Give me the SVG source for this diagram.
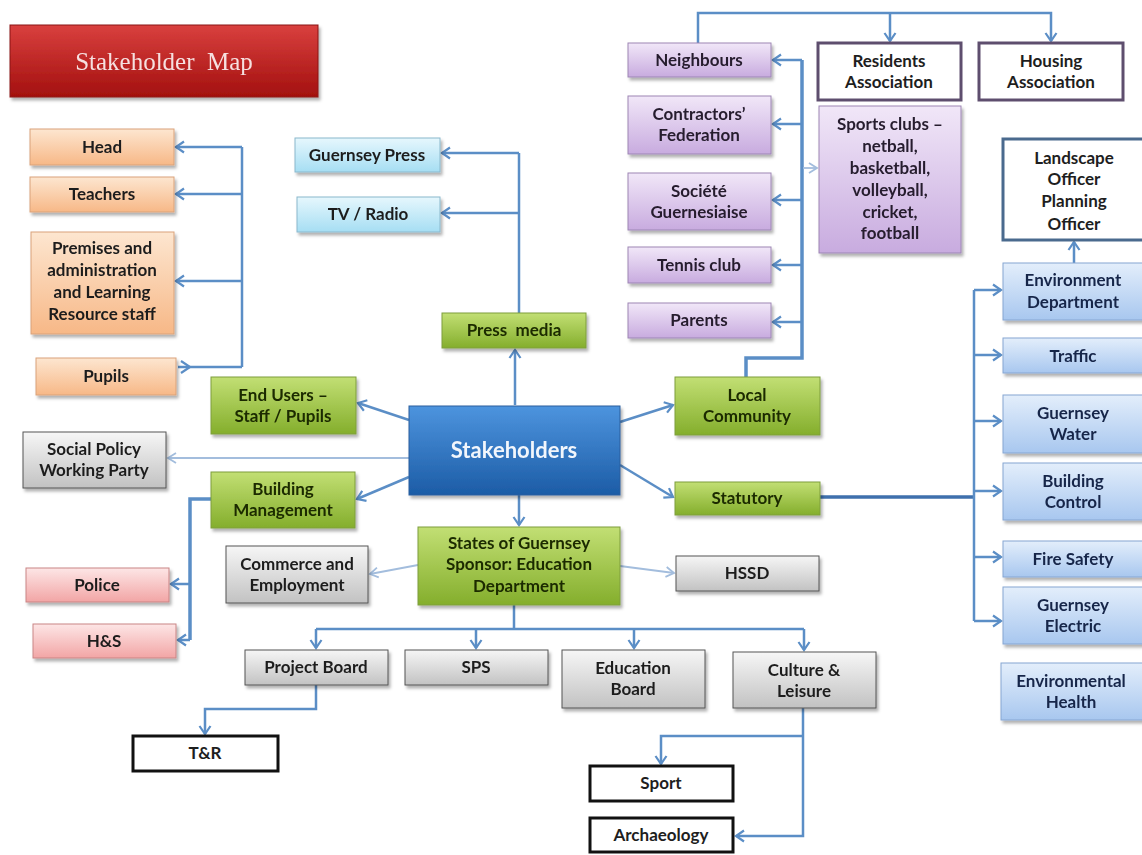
<svg xmlns="http://www.w3.org/2000/svg" width="1142" height="855" viewBox="0 0 1142 855">
<defs>
<style>
.t{font-family:Lato,"Open Sans","Liberation Sans",sans-serif;font-weight:bold;font-size:17px;text-anchor:middle;fill:#1e1e1e}
.tg{fill:#1b2a00}
.tb{fill:#18264a}
.tp{fill:#261d2e}
.c{fill:none;stroke:#5b8ec6;stroke-width:2.5}
.ct{fill:none;stroke:#5b8ec6;stroke-width:3.5}
.cl{fill:none;stroke:#a3bddd;stroke-width:1.8}
.box{filter:url(#sh)}
</style>
<filter id="sh" x="-10%" y="-10%" width="125%" height="140%">
<feDropShadow dx="2" dy="3" stdDeviation="1.8" flood-color="#000" flood-opacity="0.3"/>
</filter>
<linearGradient id="gRed" x1="0" y1="0" x2="0" y2="1"><stop offset="0" stop-color="#d9403e"/><stop offset="1" stop-color="#a3100f"/></linearGradient>
<linearGradient id="gOr" x1="0" y1="0" x2="0" y2="1"><stop offset="0" stop-color="#fde6d0"/><stop offset="1" stop-color="#f7b887"/></linearGradient>
<linearGradient id="gGr" x1="0" y1="0" x2="0" y2="1"><stop offset="0" stop-color="#c2df74"/><stop offset="1" stop-color="#84ae2c"/></linearGradient>
<linearGradient id="gSt" x1="0" y1="0" x2="0" y2="1"><stop offset="0" stop-color="#4d94de"/><stop offset="1" stop-color="#1c5ca6"/></linearGradient>
<linearGradient id="gLb" x1="0" y1="0" x2="0" y2="1"><stop offset="0" stop-color="#e6f7fd"/><stop offset="1" stop-color="#a6def3"/></linearGradient>
<linearGradient id="gPu" x1="0" y1="0" x2="0" y2="1"><stop offset="0" stop-color="#f1e7f8"/><stop offset="1" stop-color="#c8abdf"/></linearGradient>
<linearGradient id="gGy" x1="0" y1="0" x2="0" y2="1"><stop offset="0" stop-color="#f6f6f6"/><stop offset="1" stop-color="#c2c2c2"/></linearGradient>
<linearGradient id="gPk" x1="0" y1="0" x2="0" y2="1"><stop offset="0" stop-color="#fde6e6"/><stop offset="1" stop-color="#f2a5a5"/></linearGradient>
<linearGradient id="gBl" x1="0" y1="0" x2="0" y2="1"><stop offset="0" stop-color="#e3eefb"/><stop offset="1" stop-color="#a8c7ef"/></linearGradient>
<marker id="a" markerUnits="userSpaceOnUse" markerWidth="14" markerHeight="14" refX="10" refY="7" orient="auto">
<path d="M2,1.5 L10,7 L2,12.5" fill="none" stroke="#5b8ec6" stroke-width="2.2"/>
</marker>
<marker id="al" markerUnits="userSpaceOnUse" markerWidth="14" markerHeight="14" refX="10" refY="7" orient="auto">
<path d="M2,2 L10,7 L2,12" fill="none" stroke="#a3bddd" stroke-width="1.8"/>
</marker>
</defs>
<rect width="1142" height="855" fill="#ffffff"/>

<g id="title" class="box">
<rect x="10" y="25" width="308" height="72" fill="url(#gRed)" stroke="#8a1515" stroke-width="1"/>
<text x="164" y="70" style="font-family:'Liberation Serif',serif;font-size:25px;text-anchor:middle;fill:#f6e0e0">Stakeholder&#160; Map</text>
</g>

<g id="connectors">
<path class="c" d="M242,147 V367"/>
<path class="c" d="M242,147 H176" marker-end="url(#a)"/>
<path class="c" d="M242,194 H176" marker-end="url(#a)"/>
<path class="c" d="M242,281 H176" marker-end="url(#a)"/>
<path class="c" d="M242,367 H178"/>
<path d="M181,361 L190,367 L181,373" fill="none" stroke="#5b8ec6" stroke-width="2.2"/>
<path class="c" d="M519,313 V153"/>
<path class="c" d="M519,153 H442" marker-end="url(#a)"/>
<path class="c" d="M519,213 H442" marker-end="url(#a)"/>
<path class="c" d="M515,405 V350" marker-end="url(#a)"/>
<path class="c" d="M409,420 L358,403" marker-end="url(#a)"/>
<path class="cl" d="M409,458 H168" marker-end="url(#al)"/>
<path class="c" d="M409,477 L357,499" marker-end="url(#a)"/>
<path class="c" d="M519,495 V525" marker-end="url(#a)"/>
<path class="c" d="M620,422 L673,405" marker-end="url(#a)"/>
<path class="c" d="M620,465 L673,497" marker-end="url(#a)"/>
<path class="cl" d="M418,565 L370,574" marker-end="url(#al)"/>
<path class="cl" d="M620,566 L674,573" marker-end="url(#al)"/>
<path class="c" d="M514,605 V629"/>
<path class="c" d="M316,629 H804"/>
<path class="c" d="M316,629 V648" marker-end="url(#a)"/>
<path class="c" d="M476,629 V648" marker-end="url(#a)"/>
<path class="c" d="M634,629 V648" marker-end="url(#a)"/>
<path class="c" d="M804,629 V650" marker-end="url(#a)"/>
<path class="ct" d="M211,499 H190 V640"/>
<path class="c" d="M190,584 H171" marker-end="url(#a)"/>
<path class="c" d="M190,640 H178" marker-end="url(#a)"/>
<path class="c" d="M316,685 V709 H205 V734" marker-end="url(#a)"/>
<path class="c" d="M803,708 V836 H736" marker-end="url(#a)"/>
<path class="c" d="M803,736 H661 V764" marker-end="url(#a)"/>
<path class="ct" d="M746,377 V358 H802 V60"/>
<path class="c" d="M802,60 H773" marker-end="url(#a)"/>
<path class="c" d="M802,124 H773" marker-end="url(#a)"/>
<path class="c" d="M802,200 H773" marker-end="url(#a)"/>
<path class="c" d="M802,265 H773" marker-end="url(#a)"/>
<path class="c" d="M802,322 H773" marker-end="url(#a)"/>
<path class="cl" d="M803,168 H817" marker-end="url(#al)"/>
<path class="c" d="M698,43 V13 H1051 V41" marker-end="url(#a)"/>
<path class="c" d="M890,13 V41" marker-end="url(#a)"/>
<path d="M820,497 H974" fill="none" stroke="#3f70ad" stroke-width="3.5"/>
<path class="c" d="M974,290 V621"/>
<path class="c" d="M974,290 H1001" marker-end="url(#a)"/>
<path class="c" d="M974,355 H1001" marker-end="url(#a)"/>
<path class="c" d="M974,421 H1001" marker-end="url(#a)"/>
<path class="c" d="M974,491 H1001" marker-end="url(#a)"/>
<path class="c" d="M974,557 H1001" marker-end="url(#a)"/>
<path class="c" d="M974,621 H1001" marker-end="url(#a)"/>
<path class="c" d="M1074,263 V242" marker-end="url(#a)"/>
</g>

<g id="head" class="box"><rect x="30" y="129" width="144" height="36" fill="url(#gOr)" stroke="#d9a27a"/><text class="t" x="102" y="153">Head</text></g>
<g id="teachers" class="box"><rect x="30" y="177" width="144" height="35" fill="url(#gOr)" stroke="#d9a27a"/><text class="t" x="102" y="200">Teachers</text></g>
<g id="premises" class="box"><rect x="31" y="232" width="143" height="102" fill="url(#gOr)" stroke="#d9a27a"/><text class="t" x="102" y="254">Premises and</text><text class="t" x="102" y="276">administration</text><text class="t" x="102" y="298">and Learning</text><text class="t" x="102" y="320">Resource staff</text></g>
<g id="pupils" class="box"><rect x="36" y="358" width="140" height="37" fill="url(#gOr)" stroke="#d9a27a"/><text class="t" x="106" y="382">Pupils</text></g>

<g id="guernsey-press" class="box"><rect x="295" y="138" width="145" height="34" fill="url(#gLb)" stroke="#8ab8cc"/><text class="t" x="367" y="161">Guernsey Press</text></g>
<g id="tv-radio" class="box"><rect x="297" y="197" width="143" height="35" fill="url(#gLb)" stroke="#8ab8cc"/><text class="t" x="368" y="220">TV / Radio</text></g>

<g id="press-media" class="box"><rect x="442" y="313" width="144" height="35" fill="url(#gGr)" stroke="#7e9e3c"/><text class="t tg" x="514" y="336" xml:space="preserve">Press  media</text></g>
<g id="end-users" class="box"><rect x="211" y="377" width="145" height="57" fill="url(#gGr)" stroke="#7e9e3c"/><text class="t tg" x="283" y="401">End Users –</text><text class="t tg" x="283" y="422">Staff / Pupils</text></g>
<g id="building-management" class="box"><rect x="211" y="472" width="144" height="56" fill="url(#gGr)" stroke="#7e9e3c"/><text class="t tg" x="283" y="495">Building</text><text class="t tg" x="283" y="516">Management</text></g>
<g id="local-community" class="box"><rect x="675" y="377" width="145" height="58" fill="url(#gGr)" stroke="#7e9e3c"/><text class="t tg" x="747" y="401">Local</text><text class="t tg" x="747" y="422">Community</text></g>
<g id="statutory" class="box"><rect x="675" y="482" width="145" height="33" fill="url(#gGr)" stroke="#7e9e3c"/><text class="t tg" x="747" y="504">Statutory</text></g>
<g id="states" class="box"><rect x="418" y="527" width="202" height="78" fill="url(#gGr)" stroke="#7e9e3c"/><text class="t tg" x="519" y="549">States of Guernsey</text><text class="t tg" x="519" y="570">Sponsor: Education</text><text class="t tg" x="519" y="592">Department</text></g>

<g id="stakeholders" class="box"><rect x="409" y="406" width="211" height="89" fill="url(#gSt)" stroke="#2a5f9e"/><text class="t" x="514" y="458" style="font-size:22px;fill:#f2f6fc">Stakeholders</text></g>

<g id="social-policy" class="box"><rect x="23" y="432" width="143" height="56" fill="url(#gGy)" stroke="#555"/><text class="t" x="94" y="455">Social Policy</text><text class="t" x="94" y="476">Working Party</text></g>
<g id="commerce" class="box"><rect x="226" y="546" width="142" height="57" fill="url(#gGy)" stroke="#555"/><text class="t" x="297" y="570">Commerce and</text><text class="t" x="297" y="591">Employment</text></g>
<g id="hssd" class="box"><rect x="676" y="556" width="143" height="35" fill="url(#gGy)" stroke="#555"/><text class="t" x="747" y="579">HSSD</text></g>
<g id="project-board" class="box"><rect x="245" y="650" width="143" height="35" fill="url(#gGy)" stroke="#555"/><text class="t" x="316" y="673">Project Board</text></g>
<g id="sps" class="box"><rect x="405" y="650" width="143" height="35" fill="url(#gGy)" stroke="#555"/><text class="t" x="476" y="673">SPS</text></g>
<g id="education-board" class="box"><rect x="562" y="650" width="143" height="58" fill="url(#gGy)" stroke="#555"/><text class="t" x="633" y="674">Education</text><text class="t" x="633" y="695">Board</text></g>
<g id="culture" class="box"><rect x="733" y="652" width="143" height="56" fill="url(#gGy)" stroke="#555"/><text class="t" x="804" y="676">Culture &amp;</text><text class="t" x="804" y="697">Leisure</text></g>

<g id="police" class="box"><rect x="26" y="568" width="143" height="34" fill="url(#gPk)" stroke="#c98585"/><text class="t" x="97" y="591">Police</text></g>
<g id="hs" class="box"><rect x="33" y="624" width="143" height="34" fill="url(#gPk)" stroke="#c98585"/><text class="t" x="104" y="647">H&amp;S</text></g>

<g id="tr"><rect x="133" y="736" width="145" height="35" fill="#fff" stroke="#111" stroke-width="3"/><text class="t" x="205" y="759">T&amp;R</text></g>
<g id="sport"><rect x="590" y="766" width="143" height="35" fill="#fff" stroke="#111" stroke-width="3"/><text class="t" x="661" y="789">Sport</text></g>
<g id="archaeology"><rect x="590" y="818" width="143" height="34" fill="#fff" stroke="#111" stroke-width="3"/><text class="t" x="661" y="841">Archaeology</text></g>

<g id="neighbours" class="box"><rect x="628" y="43" width="143" height="34" fill="url(#gPu)" stroke="#9d86b4"/><text class="t tp" x="699" y="66">Neighbours</text></g>
<g id="contractors" class="box"><rect x="628" y="96" width="143" height="58" fill="url(#gPu)" stroke="#9d86b4"/><text class="t tp" x="699" y="120">Contractors’</text><text class="t tp" x="699" y="141">Federation</text></g>
<g id="societe" class="box"><rect x="628" y="173" width="143" height="57" fill="url(#gPu)" stroke="#9d86b4"/><text class="t tp" x="699" y="197">Société</text><text class="t tp" x="699" y="218">Guernesiaise</text></g>
<g id="tennis" class="box"><rect x="628" y="247" width="143" height="36" fill="url(#gPu)" stroke="#9d86b4"/><text class="t tp" x="699" y="271">Tennis club</text></g>
<g id="parents" class="box"><rect x="628" y="303" width="143" height="35" fill="url(#gPu)" stroke="#9d86b4"/><text class="t tp" x="699" y="326">Parents</text></g>
<g id="sports-clubs" class="box"><rect x="819" y="106" width="142" height="147" fill="url(#gPu)" stroke="#9d86b4"/><text class="t tp" x="890" y="130">Sports clubs –</text><text class="t tp" x="890" y="152">netball,</text><text class="t tp" x="890" y="174">basketball,</text><text class="t tp" x="890" y="196">volleyball,</text><text class="t tp" x="890" y="218">cricket,</text><text class="t tp" x="890" y="239">football</text></g>

<g id="residents"><rect x="818" y="43" width="143" height="57" fill="#fff" stroke="#5e4e6e" stroke-width="3"/><text class="t" x="889" y="67">Residents</text><text class="t" x="889" y="88">Association</text></g>
<g id="housing"><rect x="979" y="43" width="144" height="57" fill="#fff" stroke="#5e4e6e" stroke-width="3"/><text class="t" x="1051" y="67">Housing</text><text class="t" x="1051" y="88">Association</text></g>

<g id="landscape"><rect x="1003" y="139" width="142" height="101" fill="#fff" stroke="#4a6a8e" stroke-width="3"/><text class="t" x="1074" y="164">Landscape</text><text class="t" x="1074" y="185">Officer</text><text class="t" x="1074" y="207">Planning</text><text class="t" x="1074" y="230">Officer</text></g>

<g id="environment-dept" class="box"><rect x="1003" y="263" width="140" height="57" fill="url(#gBl)" stroke="#86a6d2"/><text class="t tb" x="1073" y="286">Environment</text><text class="t tb" x="1073" y="308">Department</text></g>
<g id="traffic" class="box"><rect x="1003" y="338" width="140" height="35" fill="url(#gBl)" stroke="#86a6d2"/><text class="t tb" x="1073" y="362">Traffic</text></g>
<g id="guernsey-water" class="box"><rect x="1003" y="395" width="140" height="58" fill="url(#gBl)" stroke="#86a6d2"/><text class="t tb" x="1073" y="419">Guernsey</text><text class="t tb" x="1073" y="440">Water</text></g>
<g id="building-control" class="box"><rect x="1003" y="463" width="140" height="57" fill="url(#gBl)" stroke="#86a6d2"/><text class="t tb" x="1073" y="487">Building</text><text class="t tb" x="1073" y="508">Control</text></g>
<g id="fire-safety" class="box"><rect x="1003" y="541" width="140" height="36" fill="url(#gBl)" stroke="#86a6d2"/><text class="t tb" x="1073" y="565">Fire Safety</text></g>
<g id="guernsey-electric" class="box"><rect x="1003" y="587" width="140" height="57" fill="url(#gBl)" stroke="#86a6d2"/><text class="t tb" x="1073" y="611">Guernsey</text><text class="t tb" x="1073" y="632">Electric</text></g>
<g id="environmental-health" class="box"><rect x="1001" y="663" width="142" height="57" fill="url(#gBl)" stroke="#86a6d2"/><text class="t tb" x="1071" y="687">Environmental</text><text class="t tb" x="1071" y="708">Health</text></g>
</svg>
